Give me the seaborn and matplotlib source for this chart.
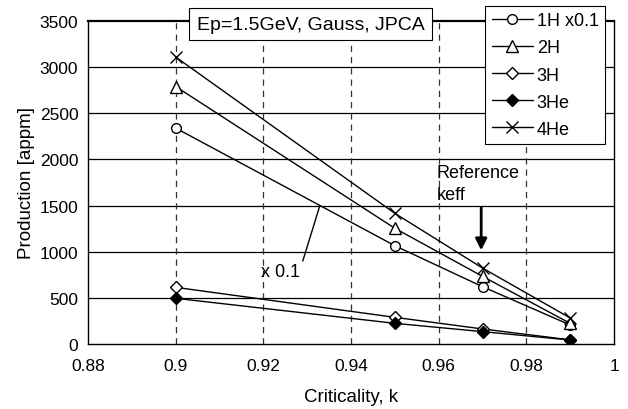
import matplotlib
matplotlib.use("Agg")
import matplotlib.pyplot as plt
import seaborn as sns
import pandas as pd

k = [0.90, 0.95, 0.97, 0.99]
h1_x01 = [2340, 1065, 621, 206]
h2 = [2790, 1254, 733, 224]
h3 = [614, 289, 163, 45]
he3 = [495, 224, 134, 43]
he4 = [3110, 1416, 823, 282]

labels = ["1H x0.1", "2H", "3H", "3He", "4He"]
series = [h1_x01, h2, h3, he3, he4]
xticks = [0.88, 0.9, 0.92, 0.94, 0.96, 0.98, 1.0]
xticklabels = ["0.88", "0.9", "0.92", "0.94", "0.96", "0.98", "1"]
yticks = [0, 500, 1000, 1500, 2000, 2500, 3000, 3500]

sns.set_theme(style="white")
plt.rcParams['font.family'] = ['Liberation Sans', 'DejaVu Sans']
plt.rcParams['text.color'] = 'black'
plt.rcParams['axes.labelcolor'] = 'black'

fig = plt.figure(figsize=(6.28, 4.10), dpi=100)
ax = fig.add_axes([88/628, 1-345/410, (614-88)/628, (345-22)/410])

styles = [
    dict(marker="o", markerfacecolor="white", markeredgecolor="black", markersize=7),
    dict(marker="^", markerfacecolor="white", markeredgecolor="black", markersize=8),
    dict(marker="D", markerfacecolor="white", markeredgecolor="black", markersize=6),
    dict(marker="D", markerfacecolor="black", markeredgecolor="black", markersize=6),
    dict(marker="x", markerfacecolor="none", markeredgecolor="black", markersize=9),
]

for lab, vals, st in zip(labels, series, styles):
    df = pd.DataFrame({"k": k, "v": vals})
    sns.lineplot(data=df, x="k", y="v", ax=ax, color="black", linewidth=1.0,
                 label=lab, markeredgewidth=1.0, **st)

ax.set_xlim(0.88, 1.0)
ax.set_ylim(0, 3500)
ax.set_xticks(xticks)
ax.set_xticklabels(xticklabels)
ax.set_yticks(yticks)
ax.tick_params(axis="both", labelsize=12.5, length=0, colors="black")
ax.tick_params(axis="x", pad=10)
ax.tick_params(axis="y", pad=7)

for y in yticks[1:-1]:
    ax.axhline(y, color="black", lw=0.9, zorder=0.5)
for x in xticks[1:-1]:
    ax.axvline(x, color="#333333", lw=0.9, ls=(0, (5, 4)), zorder=0.5)

for s in ax.spines.values():
    s.set_color("black")
    s.set_linewidth(1.0)
ax.spines["top"].set_linewidth(1.6)

ax.set_xlabel("Criticality, k", fontsize=13.5, labelpad=11)
ax.set_ylabel("Production [appm]", fontsize=13.5, labelpad=3)

# annotations
ax.text(0.9195, 790, "x 0.1", fontsize=13, ha="left", va="center")
ax.plot([0.929, 0.9329], [899, 1501], color="black", lw=1.0)
ax.text(0.9596, 1950, "Reference\nkeff", fontsize=13, ha="left", va="top", linespacing=1.35)
ax.annotate("", xy=(0.9697, 985), xytext=(0.9697, 1510),
            arrowprops=dict(arrowstyle="-|>", color="black", lw=2.0, mutation_scale=17))

fig.text(310.5/628, 1-25/410, "Ep=1.5GeV, Gauss, JPCA", fontsize=14, ha="center", va="center",
         bbox=dict(boxstyle="square,pad=0.4", facecolor="white", edgecolor="black", lw=0.8))

leg = ax.legend(loc="upper right", bbox_to_anchor=(605/628, 1-7/410), bbox_transform=fig.transFigure,
                fontsize=13, frameon=True, fancybox=False, framealpha=1, edgecolor="black",
                handlelength=2.3, handletextpad=0.2, labelspacing=0.56, borderpad=0.35,
                borderaxespad=0)
leg.get_frame().set_linewidth(0.8)

fig.savefig("out.png", dpi=100)
